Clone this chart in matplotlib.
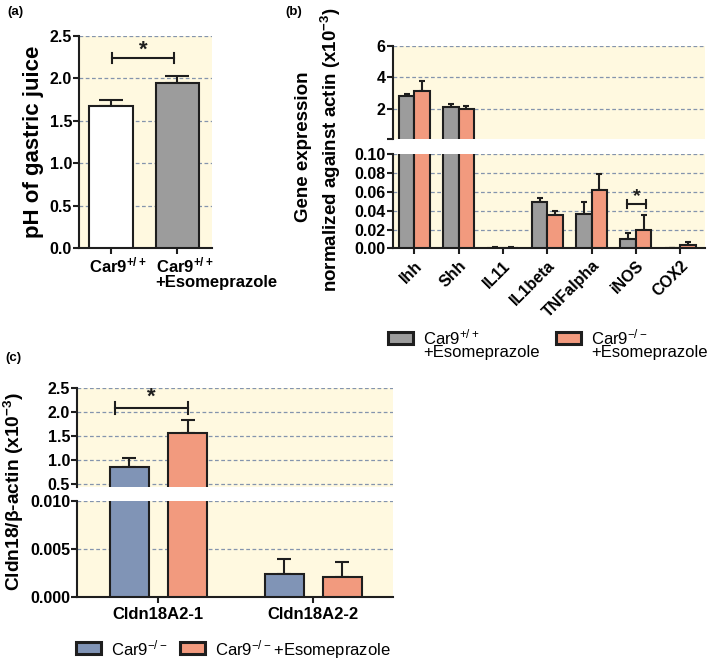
import matplotlib
matplotlib.use('Agg')
import matplotlib.pyplot as plt
import numpy as np
from matplotlib.patches import Rectangle

plt.rcParams['font.family'] = ['Liberation Sans', 'DejaVu Sans']
plt.rcParams['font.weight'] = 'bold'
plt.rcParams['mathtext.default'] = 'regular'

# ---------------- data ----------------
a_labels = ['Car9$^{+/+}$', 'Car9$^{+/+}$\n+Esomeprazole']
a_means = [1.68, 1.95]
a_errs = [0.07, 0.08]

b_genes = ['Ihh', 'Shh', 'IL11', 'IL1beta', 'TNFalpha', 'iNOS', 'COX2']
b_wt_esom = [2.85, 2.10, 0.0008, 0.0495, 0.0365, 0.0100, 0.0005]
b_wt_esom_err = [0.07, 0.22, 0.0003, 0.0035, 0.0130, 0.0067, 0.0002]
b_ko_esom = [3.15, 2.00, 0.0008, 0.0350, 0.0620, 0.0200, 0.0040]
b_ko_esom_err = [0.60, 0.20, 0.0003, 0.0050, 0.0170, 0.0155, 0.0025]

c_genes = ['Cldn18A2-1', 'Cldn18A2-2']
c_ko = [0.85, 0.00233]
c_ko_err = [0.19, 0.0016]
c_ko_esom = [1.56, 0.00202]
c_ko_esom_err = [0.28, 0.0016]

# ---------------- style ----------------
W, H = 709, 664
fig = plt.figure(figsize=(W / 100, H / 100), dpi=100)

BG = '#FFF9E0'
GRID = '#8494AD'
EDGE = '#1E1E1E'
GRAY = '#9C9C9C'
SALMON = '#F29A7E'
BLUE = '#8094B6'
LW = 1.5


def px_axes(l, t, r, b):
    return fig.add_axes([l / W, 1 - b / H, (r - l) / W, (b - t) / H])


def style(ax, grid_vals, bottom=True):
    ax.set_facecolor(BG)
    ax.spines['top'].set_visible(False)
    ax.spines['right'].set_visible(False)
    ax.spines['left'].set_linewidth(LW)
    ax.spines['left'].set_color(EDGE)
    if bottom:
        ax.spines['bottom'].set_linewidth(LW)
        ax.spines['bottom'].set_color(EDGE)
        ax.tick_params(axis='x', length=4, width=LW, color=EDGE)
    else:
        ax.spines['bottom'].set_visible(False)
        ax.tick_params(axis='x', bottom=False, labelbottom=False)
    ax.tick_params(axis='y', length=4, width=LW, color=EDGE, labelsize=11.5, pad=1)
    for g in grid_vals:
        ax.axhline(g, color=GRID, lw=0.9, ls=(0, (3, 2)), zorder=0.5)


def bars(ax, x, vals, errs, width, color, cap, vmin=None):
    x = np.asarray(x, float)
    vals = np.asarray(vals, float)
    errs = np.asarray(errs, float)
    if vmin is not None:
        keep = vals > vmin
        x, vals, errs = x[keep], vals[keep], errs[keep]
        if isinstance(color, list):
            color = [c for c, k in zip(color, keep) if k]
    ax.bar(x, vals, width=width, color=color, edgecolor=EDGE, lw=LW, zorder=3)
    ax.errorbar(x, vals, yerr=[np.zeros(len(vals)), errs], fmt='none', ecolor=EDGE,
                elinewidth=LW, capsize=cap, capthick=LW, zorder=2)


def bracket(ax, x0, x1, y, dy, star_y, fs):
    ax.plot([x0, x1], [y, y], color=EDGE, lw=LW, zorder=4, clip_on=False)
    for xx in (x0, x1):
        ax.plot([xx, xx], [y - dy, y + dy], color=EDGE, lw=LW, zorder=4, clip_on=False)
    ax.text((x0 + x1) / 2, star_y, '*', ha='center', va='center', fontsize=fs,
            fontweight='bold', color=EDGE)


# ---------------- panel (a) ----------------
axa = px_axes(79, 36, 212, 248)
xa = np.arange(len(a_means))
bars(axa, xa, a_means, a_errs, 0.66, ['white', GRAY], 8.3)
axa.set_xlim(-0.481, 1.519)
axa.set_ylim(0, 2.5)
axa.set_yticks(np.arange(0, 2.51, 0.5))
axa.set_yticklabels([f'{v:.1f}' for v in np.arange(0, 2.51, 0.5)])
style(axa, [0.5, 1.0, 1.5, 2.0, 2.5])
axa.set_xticks(xa)
axa.set_xticklabels([])
for xi, lab in zip(xa, a_labels):
    axa.text(xi - 0.33, -0.035, lab, transform=axa.get_xaxis_transform(),
             ha='left', va='top', fontsize=12, linespacing=0.95)
bracket(axa, 0.015, 0.955, 2.24, 0.06, 2.33, 16)
fig.text(34 / W, 1 - 142 / H, 'pH of gastric juice', rotation=90, ha='center',
         va='center', fontsize=16)
fig.text(7 / W, 1 - 12 / H, '(a)', ha='left', va='center', fontsize=9.5)

# ---------------- panel (b) ----------------
axb_up = px_axes(392.7, 45.7, 705, 139)
axb_lo = px_axes(392.7, 154.3, 705, 248.3)
xb = np.arange(len(b_genes))
B_UP_MIN = 0.1
bars(axb_up, xb - 0.175, b_wt_esom, b_wt_esom_err, 0.35, GRAY, 2.5, vmin=B_UP_MIN)
bars(axb_up, xb + 0.175, b_ko_esom, b_ko_esom_err, 0.35, SALMON, 2.5, vmin=B_UP_MIN)
bars(axb_lo, xb - 0.175, b_wt_esom, b_wt_esom_err, 0.35, GRAY, 2.5)
bars(axb_lo, xb + 0.175, b_ko_esom, b_ko_esom_err, 0.35, SALMON, 2.5)
for ax in (axb_up, axb_lo):
    ax.set_xlim(-0.488, 6.56)
axb_up.set_ylim(B_UP_MIN, 6)
axb_up.set_yticks([B_UP_MIN, 2, 4, 6])
axb_up.set_yticklabels(['', '2', '4', '6'])
style(axb_up, [2, 4, 6], bottom=False)
axb_lo.set_ylim(0, 0.10)
lo_ticks = [0.0, 0.02, 0.04, 0.06, 0.08, 0.10]
axb_lo.set_yticks(lo_ticks)
axb_lo.set_yticklabels([f'{v:.2f}' for v in lo_ticks])
style(axb_lo, lo_ticks[1:])
axb_lo.set_xticks(xb)
axb_lo.set_xticklabels(b_genes, rotation=45, ha='right', rotation_mode='anchor',
                       fontsize=11.5)
axb_lo.tick_params(axis='x', pad=3)
bracket(axb_lo, 5 - 0.19, 5 + 0.22, 0.047, 0.0045, 0.0545, 14)
fig.text(303 / W, 1 - 147 / H, 'Gene expression', rotation=90,
         ha='center', va='center', fontsize=13.5)
fig.text(331 / W, 1 - 150 / H, 'normalized against actin (x10$^{-3}$)', rotation=90,
         ha='center', va='center', fontsize=13.5)
fig.text(285 / W, 1 - 12 / H, '(b)', ha='left', va='center', fontsize=9.5)

# legend helper
def legend_item(x, y, color, text):
    fig.patches.append(Rectangle((x / W, 1 - (y + 12) / H), 25 / W, 12 / H,
                                 transform=fig.transFigure, facecolor=color,
                                 edgecolor=EDGE, lw=2.2, figure=fig))
    fig.text((x + 35) / W, 1 - (y - 4) / H, text, ha='left', va='top',
             fontsize=12, fontweight='normal', linespacing=0.8)

legend_item(388, 332, GRAY, 'Car9$^{+/+}$\n+Esomeprazole')
legend_item(556, 332, SALMON, 'Car9$^{-/-}$\n+Esomeprazole')

# ---------------- panel (c) ----------------
axc_up = px_axes(77, 388.3, 392.7, 486.7)
axc_lo = px_axes(77, 500.7, 392.7, 596.7)
xc = np.arange(len(c_genes))
C_UP_MIN = 0.45
bars(axc_up, xc - 0.188, c_ko, c_ko_err, 0.25, BLUE, 4.7, vmin=C_UP_MIN)
bars(axc_up, xc + 0.188, c_ko_esom, c_ko_esom_err, 0.25, SALMON, 4.7, vmin=C_UP_MIN)
bars(axc_lo, xc - 0.188, c_ko, c_ko_err, 0.25, BLUE, 4.7)
bars(axc_lo, xc + 0.188, c_ko_esom, c_ko_esom_err, 0.25, SALMON, 4.7)
for ax in (axc_up, axc_lo):
    ax.set_xlim(-0.525, 1.512)
axc_up.set_ylim(C_UP_MIN, 2.5)
up_ticks = [0.5, 1.0, 1.5, 2.0, 2.5]
axc_up.set_yticks(up_ticks)
axc_up.set_yticklabels([f'{v:.1f}' for v in up_ticks])
style(axc_up, up_ticks, bottom=False)
axc_lo.set_ylim(0, 0.010)
c_lo_ticks = [0.0, 0.005, 0.010]
axc_lo.set_yticks(c_lo_ticks)
axc_lo.set_yticklabels([f'{v:.3f}' for v in c_lo_ticks])
style(axc_lo, c_lo_ticks[1:])
axc_lo.set_xticks(xc)
axc_lo.set_xticklabels(c_genes, fontsize=12)
bracket(axc_up, -0.279, 0.194, 2.08, 0.125, 2.31, 16)
fig.text(14 / W, 1 - 492 / H, 'Cldn18/β-actin (x10$^{-3}$)', rotation=90,
         ha='center', va='center', fontsize=13.8)
fig.text(5 / W, 1 - 358 / H, '(c)', ha='left', va='center', fontsize=9.5)

legend_item(76, 642, BLUE, 'Car9$^{-/-}$')
legend_item(180, 642, SALMON, 'Car9$^{-/-}$+Esomeprazole')

fig.savefig('out.png', dpi=100, facecolor='white')
